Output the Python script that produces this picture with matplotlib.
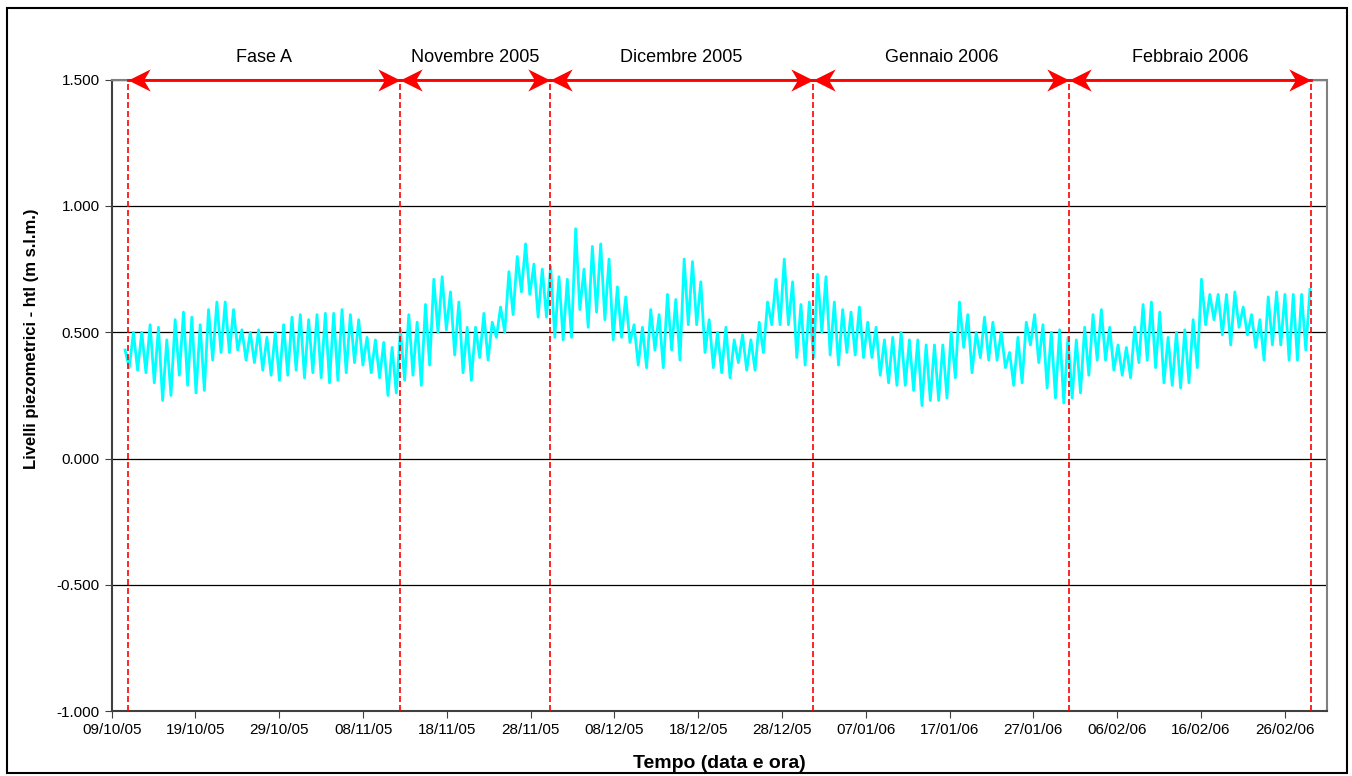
import datetime as dt
import matplotlib
matplotlib.use("Agg")
import matplotlib.pyplot as plt
import matplotlib.dates as mdates
from matplotlib.patches import Rectangle
from matplotlib.path import Path

plt.rcParams["font.family"] = ["Liberation Sans", "DejaVu Sans"]

START = dt.datetime(2005, 10, 9)

# daily peak / trough of the piezometric level (m s.l.m.),
# one entry per day starting on day 1 after 09/10/05
daily_max = [
    0.43, 0.50, 0.50, 0.53, 0.52, 0.47, 0.55, 0.58, 0.56, 0.53,
    0.59, 0.62, 0.62, 0.59, 0.51, 0.50, 0.51, 0.48, 0.50, 0.53,
    0.56, 0.57, 0.55, 0.57, 0.575, 0.575, 0.59, 0.57, 0.55, 0.48,
    0.47, 0.46, 0.44, 0.51, 0.57, 0.54, 0.61, 0.71, 0.72, 0.66,
    0.62, 0.52, 0.52, 0.575, 0.54, 0.60, 0.74, 0.80, 0.85, 0.77,
    0.75, 0.76, 0.72, 0.71, 0.91, 0.75, 0.84, 0.85, 0.79, 0.68,
    0.64, 0.53, 0.52, 0.59, 0.57, 0.65, 0.63, 0.79, 0.78, 0.70,
    0.55, 0.50, 0.52, 0.47, 0.49, 0.47, 0.54, 0.62, 0.71, 0.79,
    0.70, 0.61, 0.62, 0.73, 0.72, 0.62, 0.59, 0.58, 0.60, 0.54,
    0.52, 0.47, 0.48, 0.50, 0.47, 0.47, 0.45, 0.45, 0.45, 0.50,
    0.62, 0.57, 0.50, 0.56, 0.54, 0.50, 0.42, 0.48, 0.54, 0.57,
    0.53, 0.50, 0.51, 0.48, 0.47, 0.52, 0.57, 0.59, 0.52, 0.45,
    0.44, 0.52, 0.61, 0.62, 0.58, 0.48, 0.50, 0.51, 0.55, 0.71,
    0.65, 0.65, 0.65, 0.66, 0.60, 0.57, 0.55, 0.64, 0.66, 0.65,
    0.65, 0.65, 0.67,
]
daily_min = [
    0.36, 0.35, 0.34, 0.30, 0.23, 0.25, 0.33, 0.29, 0.26, 0.27,
    0.39, 0.42, 0.42, 0.43, 0.39, 0.38, 0.35, 0.33, 0.31, 0.33,
    0.35, 0.32, 0.34, 0.32, 0.30, 0.31, 0.34, 0.38, 0.37, 0.34,
    0.32, 0.25, 0.26, 0.31, 0.33, 0.29, 0.37, 0.50, 0.51, 0.41,
    0.34, 0.31, 0.40, 0.39, 0.48, 0.50, 0.57, 0.66, 0.65, 0.56,
    0.56, 0.48, 0.47, 0.48, 0.59, 0.52, 0.58, 0.55, 0.47, 0.48,
    0.46, 0.37, 0.36, 0.43, 0.36, 0.43, 0.39, 0.53, 0.53, 0.42,
    0.36, 0.34, 0.32, 0.38, 0.35, 0.35, 0.42, 0.53, 0.53, 0.53,
    0.40, 0.37, 0.40, 0.50, 0.41, 0.37, 0.42, 0.41, 0.40, 0.40,
    0.33, 0.30, 0.29, 0.29, 0.27, 0.21, 0.23, 0.23, 0.24, 0.32,
    0.44, 0.34, 0.40, 0.39, 0.39, 0.36, 0.29, 0.30, 0.45, 0.38,
    0.28, 0.24, 0.22, 0.24, 0.26, 0.33, 0.39, 0.39, 0.35, 0.33,
    0.32, 0.38, 0.39, 0.36, 0.30, 0.29, 0.28, 0.30, 0.36, 0.53,
    0.55, 0.49, 0.45, 0.52, 0.49, 0.44, 0.39, 0.45, 0.45, 0.39,
    0.39, 0.43,
]

# phase boundaries (days after 09/10/05) and their labels
phase_bounds = [1.9, 34.4, 52.3, 83.7, 114.3, 143.1]
phase_names = ["Fase A", "Novembre 2005", "Dicembre 2005", "Gennaio 2006", "Febbraio 2006"]

y_ticks = [-1.0, -0.5, 0.0, 0.5, 1.0, 1.5]
y_labels = ["-1.000", "-0.500", "0.000", "0.500", "1.000", "1.500"]

# record runs from 10/10/05 afternoon to the end of February
t_first, t_last = 1.6, 143.0

level = []
for i in range(len(daily_max)):
    level.append(daily_max[i])
    if i < len(daily_min):
        level.append(daily_min[i])
step = (t_last - t_first) / (len(level) - 1)
times = [START + dt.timedelta(days=t_first + k * step) for k in range(len(level))]


def day(d):
    return mdates.date2num(START + dt.timedelta(days=d))


# stealth-like arrow heads (tip at the marker position)
head_right = Path([(0, 0), (-1, 0.5), (-0.7, 0), (-1, -0.5), (0, 0)],
                  [Path.MOVETO] + [Path.LINETO] * 3 + [Path.CLOSEPOLY])
head_left = Path([(0, 0), (1, 0.5), (0.7, 0), (1, -0.5), (0, 0)],
                 [Path.MOVETO] + [Path.LINETO] * 3 + [Path.CLOSEPOLY])

fig = plt.figure(figsize=(13.52, 7.76), dpi=100)
ax = fig.add_axes([0.0826, 0.0835, 0.8987, 0.8138])

ax.plot(times, level, color="#00FFFF", lw=2.0, zorder=3)

for b in phase_bounds:
    ax.axvline(day(b), color="red", lw=1.2, ls=(0, (3.6, 1.8)), zorder=4)

for i, name in enumerate(phase_names):
    x0, x1 = day(phase_bounds[i]), day(phase_bounds[i + 1])
    ax.plot([x0, x1], [1.5, 1.5], color="red", lw=2, clip_on=False, zorder=6)
    ax.plot([x0], [1.5], marker=head_left, ms=32, color="red", mew=0,
            clip_on=False, zorder=7)
    ax.plot([x1], [1.5], marker=head_right, ms=32, color="red", mew=0,
            clip_on=False, zorder=7)
    ax.annotate(name, xy=((x0 + x1) / 2, 1.5), xytext=(0, 16),
                textcoords="offset points", ha="center", va="center",
                fontsize=13, annotation_clip=False)

ax.set_xlim(day(0), day(145))
ax.set_ylim(-1.0, 1.5)
ax.set_yticks(y_ticks)
ax.set_yticklabels(y_labels)
ax.set_xticks([day(10 * k) for k in range(15)])
ax.xaxis.set_major_formatter(mdates.DateFormatter("%d/%m/%y"))

ax.yaxis.grid(True, color="black", lw=0.9, zorder=1)
ax.set_axisbelow(True)
ax.tick_params(direction="out", length=5, labelsize=11, color="#404040")
for side in ["left", "bottom"]:
    ax.spines[side].set_color("#404040")
    ax.spines[side].set_linewidth(1.5)
for side in ["top", "right"]:
    ax.spines[side].set_color("#808080")
    ax.spines[side].set_linewidth(1.5)

fig.text(0.532, 1 - 764 / 776, "Tempo (data e ora)", ha="center", va="center",
         fontsize=14, fontweight="bold")
fig.text(32 / 1352, 1 - 339 / 776, "Livelli piezometrici - htl (m s.l.m.)",
         ha="center", va="center", rotation=90, fontsize=12, fontweight="bold")

fig.patches.append(Rectangle((7 / 1352, 3 / 776), 1340 / 1352, 765 / 776,
                             transform=fig.transFigure, fill=False,
                             ec="black", lw=1.5))

fig.savefig("out.png", dpi=100)
